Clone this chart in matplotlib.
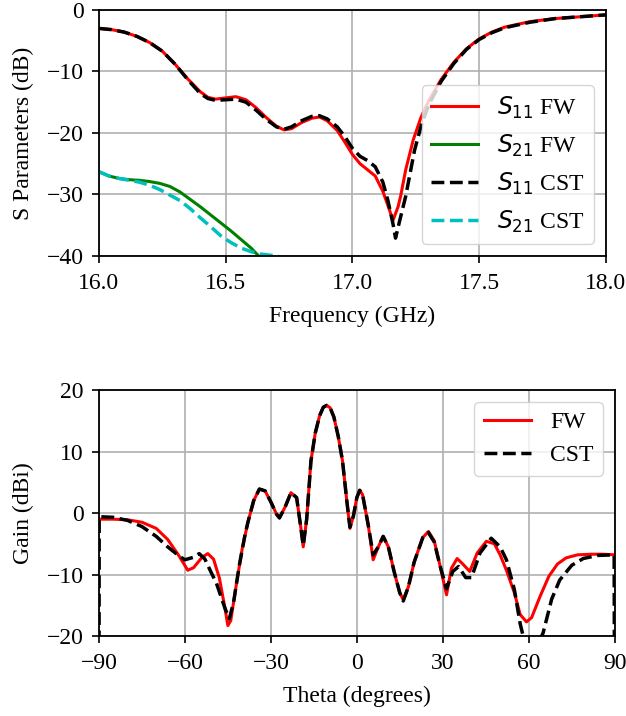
import matplotlib
matplotlib.use("Agg")
import matplotlib.pyplot as plt

plt.rcParams['font.family'] = ['Liberation Serif', 'DejaVu Serif']
plt.rcParams['font.size'] = 17
plt.rcParams['axes.linewidth'] = 1.3
plt.rcParams['xtick.major.size'] = 5
plt.rcParams['ytick.major.size'] = 5
plt.rcParams['xtick.major.width'] = 1.2
plt.rcParams['ytick.major.width'] = 1.2
plt.rcParams['xtick.major.pad'] = 7
plt.rcParams['ytick.major.pad'] = 6
plt.rcParams['axes.labelpad'] = 9

# S-parameter data (frequency in GHz, dB)
f_s11_fw = [16.00, 16.05, 16.10, 16.15, 16.20, 16.25, 16.30, 16.35, 16.40, 16.43,
            16.46, 16.50, 16.54, 16.58, 16.62, 16.66, 16.70, 16.73, 16.76, 16.80,
            16.84, 16.87, 16.90, 16.94, 16.97, 17.00, 17.03, 17.06, 17.09, 17.12,
            17.14, 17.16, 17.18, 17.19, 17.21, 17.24, 17.27, 17.30, 17.35, 17.40,
            17.45, 17.50, 17.55, 17.60, 17.70, 17.80, 17.90, 18.00]
s11_fw = [-3.0, -3.2, -3.6, -4.3, -5.3, -6.7, -8.8, -11.2, -13.3, -14.2,
          -14.5, -14.3, -14.1, -14.6, -15.9, -17.5, -18.9, -19.5, -19.3, -18.3,
          -17.6, -17.4, -18.0, -19.6, -21.5, -23.5, -25.0, -26.0, -27.0, -29.5,
          -31.8, -34.2, -32.0, -30.3, -26.0, -21.1, -17.5, -14.8, -11.3, -8.5,
          -6.3, -4.7, -3.6, -2.8, -1.9, -1.4, -1.1, -0.8]

f_s11_cst = [16.00, 16.05, 16.10, 16.15, 16.20, 16.25, 16.30, 16.35, 16.40, 16.43,
             16.46, 16.50, 16.54, 16.58, 16.62, 16.66, 16.70, 16.73, 16.76, 16.80,
             16.84, 16.87, 16.90, 16.94, 16.97, 17.00, 17.03, 17.06, 17.09, 17.12,
             17.14, 17.16, 17.17, 17.185, 17.21, 17.245, 17.27, 17.30, 17.35, 17.40,
             17.45, 17.50, 17.55, 17.60, 17.70, 17.80, 17.90, 18.00]
s11_cst = [-3.0, -3.2, -3.6, -4.3, -5.3, -6.7, -8.8, -11.3, -13.6, -14.4,
           -14.7, -14.6, -14.5, -15.0, -16.3, -17.8, -19.0, -19.4, -19.0, -18.0,
           -17.3, -17.2, -17.7, -19.0, -20.6, -22.5, -23.8, -24.5, -25.5, -28.0,
           -31.0, -34.8, -37.1, -34.5, -30.3, -22.8, -19.0, -15.5, -11.6, -8.7,
           -6.4, -4.8, -3.7, -2.9, -2.0, -1.4, -1.1, -0.8]

f_s21_fw = [16.00, 16.04, 16.08, 16.12, 16.16, 16.20, 16.24, 16.28, 16.32, 16.36,
            16.40, 16.44, 16.48, 16.52, 16.56, 16.60, 16.63, 16.66]
s21_fw = [-26.3, -27.0, -27.4, -27.6, -27.7, -27.9, -28.2, -28.7, -29.6, -30.8,
          -32.0, -33.3, -34.6, -35.9, -37.3, -38.7, -40.0, -41.3]

f_s21_cst = [16.00, 16.04, 16.08, 16.12, 16.16, 16.20, 16.24, 16.28, 16.32, 16.36,
             16.40, 16.44, 16.48, 16.52, 16.56, 16.60, 16.64, 16.68, 16.71, 16.75]
s21_cst = [-26.3, -27.0, -27.4, -27.7, -28.0, -28.5, -29.2, -30.1, -31.0, -32.3,
           -33.8, -35.2, -36.7, -37.8, -38.7, -39.3, -39.7, -39.9, -40.1, -40.6]

# Radiation pattern data (theta in degrees, gain in dBi)
th_fw = [-90, -85, -80, -75, -70, -66, -62, -59, -57, -54, -52, -50, -48, -46, -45,
         -44, -42, -40, -38, -36, -34, -32, -30, -28, -27, -25, -23, -21, -19.5,
         -18.7, -17.5, -16, -14.5, -13, -11.7, -10.5, -9.3, -8, -6.5, -5, -3.5,
         -2.4, -1.2, 0, 1, 2, 4, 5.7, 7.5, 9.2, 11, 13, 15, 16.2, 18, 20, 23, 25,
         27, 29, 31.3, 33, 35, 37, 39.4, 42, 45.2, 48, 50, 52.2, 55, 57, 59.2, 61,
         64, 67, 70, 73, 77, 82, 86, 90]
gain_fw = [-1.0, -1.0, -1.1, -1.5, -2.5, -4.3, -7.0, -9.3, -8.9, -7.2, -6.6, -7.5,
           -10.5, -15.5, -18.3, -17.5, -11.5, -5.8, -1.5, 2.0, 3.9, 3.6, 1.8, -0.2,
           -0.8, 1.0, 3.3, 2.5, -2.5, -5.5, -1.0, 8.5, 13.0, 15.8, 17.2, 17.5, 17.1,
           15.6, 12.5, 8.5, 2.0, -2.5, -0.5, 2.5, 3.7, 3.0, -2.0, -7.6, -5.5, -3.8,
           -5.5, -9.5, -13.0, -14.1, -12.0, -8.0, -4.0, -3.0, -4.5, -8.5, -13.3,
           -9.0, -7.4, -8.3, -9.5, -6.5, -4.6, -5.0, -6.8, -9.3, -13.0, -16.5,
           -17.7, -17.0, -13.5, -10.3, -8.3, -7.3, -6.8, -6.7, -6.7, -6.8]

th_cst = [-90, -89.9, -85, -80, -75, -70, -66, -62, -60, -57, -55, -53, -51, -49,
          -46, -44.5, -43, -41, -39, -38, -36, -34, -32, -30, -28, -27, -25, -23,
          -21, -19.5, -18.7, -17.5, -16, -14.5, -13, -11.7, -10.5, -9.3, -8, -6.5,
          -5, -3.5, -2.4, -1.2, 0, 1, 2, 4, 5.7, 7.5, 9.2, 11, 13, 15, 16.2, 18,
          20, 23, 25, 27, 29, 31.3, 33.5, 35.5, 38, 40, 43, 46.9, 50, 52.2, 55, 57,
          58.3, 60, 62, 63.5, 65, 68, 70.8, 75, 79, 84, 89.8, 90]
gain_cst = [-50, -0.6, -0.7, -1.2, -2.2, -3.8, -5.5, -7.0, -7.6, -7.2, -6.6, -7.5,
            -9.5, -11.4, -15.5, -17.2, -14.5, -8.5, -3.5, -1.5, 2.0, 3.9, 3.6, 1.8,
            -0.2, -0.8, 1.0, 3.3, 2.5, -2.5, -5.3, -1.0, 8.5, 13.0, 15.8, 17.2,
            17.5, 17.1, 15.6, 12.5, 8.5, 2.0, -2.3, -0.5, 2.5, 3.7, 3.0, -2.0, -6.8,
            -5.5, -3.8, -5.5, -9.5, -13.0, -14.3, -12.0, -8.0, -4.0, -3.2, -4.7,
            -8.5, -12.3, -9.5, -8.7, -10.5, -10.5, -6.5, -4.1, -5.5, -7.6, -12.5,
            -18.0, -20.5, -23.0, -23.0, -21.0, -19.5, -14.0, -10.9, -8.5, -7.4,
            -6.9, -6.8, -50]

fig = plt.figure(figsize=(6.26, 7.16), dpi=100)

# Top: S parameters
ax1 = fig.add_axes([0.158, 0.6425, 0.810, 0.3436])
ax1.plot(f_s11_fw, s11_fw, color='r', lw=2.2, label='$S_{11}$ FW')
ax1.plot(f_s21_fw, s21_fw, color='g', lw=2.2, label='$S_{21}$ FW')
ax1.plot(f_s11_cst, s11_cst, color='k', lw=2.5, ls='--', label='$S_{11}$ CST')
ax1.plot(f_s21_cst, s21_cst, color='c', lw=2.5, ls='--', label='$S_{21}$ CST')
ax1.set_xlim(16, 18)
ax1.set_ylim(-40, 0)
ax1.set_xticks([16.0, 16.5, 17.0, 17.5, 18.0])
ax1.set_yticks([0, -10, -20, -30, -40])
ax1.set_xlabel('Frequency (GHz)')
ax1.set_ylabel('S Parameters (dB)')
ax1.grid(True, lw=1.2)
ax1.legend(loc='lower right')

# Bottom: gain pattern
ax2 = fig.add_axes([0.158, 0.1117, 0.824, 0.3436])
ax2.plot(th_fw, gain_fw, color='r', lw=2.2, label='FW')
ax2.plot(th_cst, gain_cst, color='k', lw=2.5, ls='--', label='CST')
ax2.set_xlim(-90, 90)
ax2.set_ylim(-20, 20)
ax2.set_xticks([-90, -60, -30, 0, 30, 60, 90])
ax2.set_yticks([20, 10, 0, -10, -20])
ax2.set_xlabel('Theta (degrees)')
ax2.set_ylabel('Gain (dBi)')
ax2.grid(True, lw=1.2)
ax2.legend(loc='upper right')

fig.savefig('out.png', dpi=100)
